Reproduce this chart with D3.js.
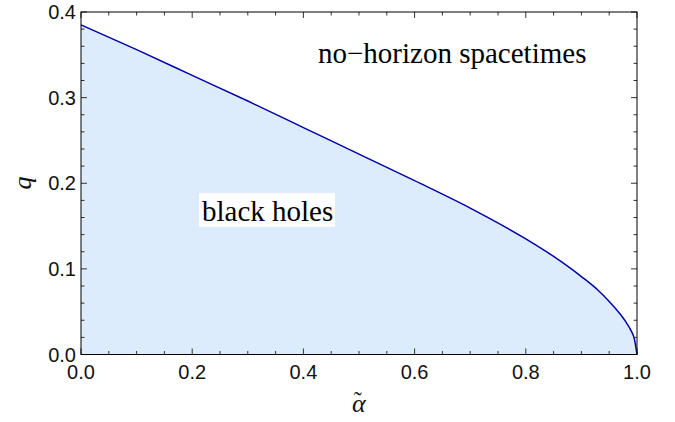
<!DOCTYPE html>
<html><head><meta charset="utf-8">
<script src="https://cdn.jsdelivr.net/npm/d3@7"></script>
<style>body{margin:0;background:#fff}</style>
</head><body>
<svg id="c" width="675" height="422"></svg>
<script>
const alphaVals = [0, 0.1, 0.2, 0.3, 0.4, 0.5, 0.6, 0.7, 0.8, 0.85, 0.9, 0.93, 0.95, 0.97, 0.98, 0.99, 0.995, 1.0];
const qVals     = [0.385, 0.356, 0.326, 0.296, 0.265, 0.234, 0.203, 0.171, 0.135, 0.1145, 0.091, 0.075, 0.062, 0.047, 0.038, 0.027, 0.019, 0.0];
const xTicks = [0.0, 0.2, 0.4, 0.6, 0.8, 1.0];
const yTicks = [0.0, 0.1, 0.2, 0.3, 0.4];
const regionLabels = ["no\u2212horizon spacetimes", "black holes"];

const svg = d3.select("#c");
const L = 81, R = 637, T = 12, B = 354.5;
const x = d3.scaleLinear().domain([0, 1]).range([L, R]);
const y = d3.scaleLinear().domain([0, 0.4]).range([B, T]);
const data = alphaVals.map((a, i) => [a, qVals[i]]);

// fill
svg.append("path").datum(data)
  .attr("d", d3.area().x(d => x(d[0])).y0(y(0)).y1(d => y(d[1])).curve(d3.curveMonotoneX))
  .attr("fill", "#dcecfc");

// curve
svg.append("path").datum(data)
  .attr("d", d3.line().x(d => x(d[0])).y(d => y(d[1])).curve(d3.curveMonotoneX))
  .attr("fill", "none").attr("stroke", "#0000a8").attr("stroke-width", 1.5);

// ticks (inward, all sides)
const xMinor = d3.range(0, 1.0001, 0.05).filter(v => !xTicks.some(t => Math.abs(t - v) < 1e-6));
const yMinor = d3.range(0, 0.4001, 0.02).filter(v => !yTicks.some(t => Math.abs(t - v) < 1e-6));
const tg = svg.append("g").attr("stroke", "#333").attr("stroke-width", 1);
function xt(v, len) {
  tg.append("line").attr("x1", x(v)).attr("x2", x(v)).attr("y1", B).attr("y2", B - len);
  tg.append("line").attr("x1", x(v)).attr("x2", x(v)).attr("y1", T).attr("y2", T + len);
}
function yt(v, len) {
  tg.append("line").attr("y1", y(v)).attr("y2", y(v)).attr("x1", L).attr("x2", L + len);
  tg.append("line").attr("y1", y(v)).attr("y2", y(v)).attr("x1", R).attr("x2", R - len);
}
xTicks.forEach(v => xt(v, 6)); xMinor.forEach(v => xt(v, 3.5));
yTicks.forEach(v => yt(v, 6)); yMinor.forEach(v => yt(v, 3.5));

// frame
svg.append("rect").attr("x", L).attr("y", T).attr("width", R - L).attr("height", B - T)
  .attr("fill", "none").attr("stroke", "#000").attr("stroke-width", 1);

// tick labels
const lf = "'Liberation Sans', Arial, sans-serif";
svg.append("g").selectAll("text").data(xTicks).join("text")
  .attr("x", d => x(d)).attr("y", B + 24).attr("text-anchor", "middle")
  .attr("font-family", lf).attr("font-size", 20).attr("fill", "#111")
  .text(d => d.toFixed(1));
svg.append("g").selectAll("text").data(yTicks).join("text")
  .attr("x", L - 5).attr("y", d => y(d) + 7).attr("text-anchor", "end")
  .attr("font-family", lf).attr("font-size", 20).attr("fill", "#111")
  .text(d => d.toFixed(1));

// axis labels
const sf = "'Liberation Serif', 'Times New Roman', serif";
svg.append("text").attr("transform", "translate(31,183) rotate(-90)")
  .attr("text-anchor", "middle").attr("font-family", sf).attr("font-style", "italic")
  .attr("font-size", 26).attr("fill", "#111").text("q");
const ax = (L + R) / 2;
const at = svg.append("text").attr("x", ax - 7).attr("y", 412)
  .attr("font-family", sf).attr("font-size", 26).attr("fill", "#111");
at.append("tspan").attr("font-style", "italic").text("\u03B1");
at.append("tspan").attr("dx", -12).attr("dy", -4).attr("font-size", 24).text("\u02DC");

// region labels
svg.append("text").attr("x", 318).attr("y", 63)
  .attr("font-family", sf).attr("font-size", 29).attr("fill", "#000").text(regionLabels[0]);
svg.append("rect").attr("x", 199).attr("y", 193).attr("width", 136).attr("height", 34).attr("fill", "#fff");
svg.append("text").attr("x", 202).attr("y", 221)
  .attr("font-family", sf).attr("font-size", 29).attr("fill", "#000").text(regionLabels[1]);
</script>
</body></html>
